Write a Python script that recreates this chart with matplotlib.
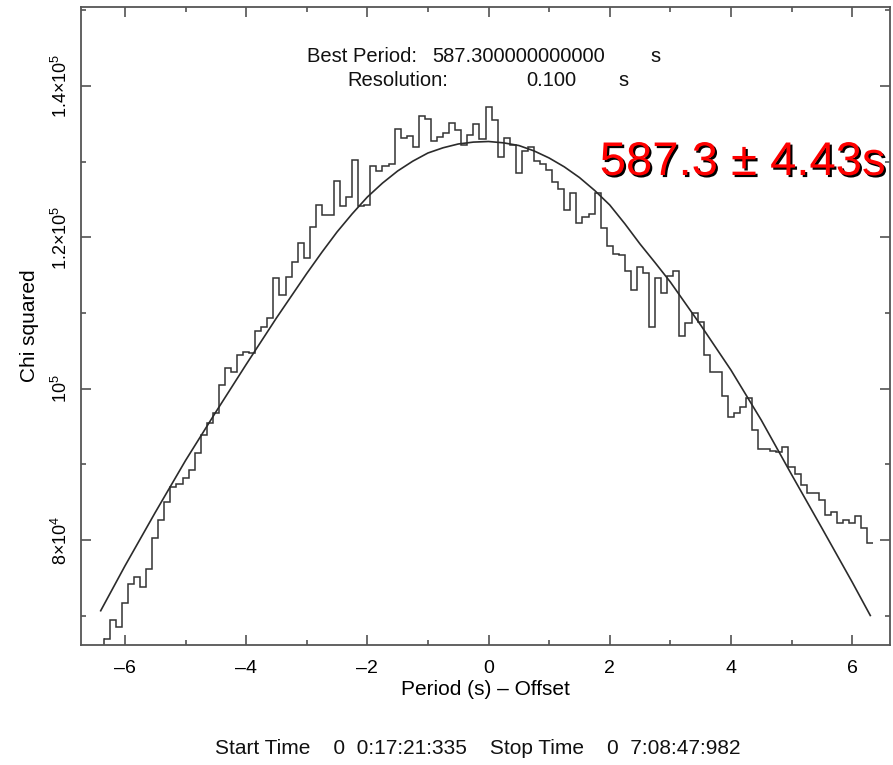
import numpy as np
import matplotlib
matplotlib.use('Agg')
import matplotlib.pyplot as plt
import matplotlib.patheffects as pe

# ---------------- data ----------------
bin_start = -6.35          # left edge of first trial-period bin (s, offset)
bin_width = 0.1            # resolution (s)
chi2_values = [
    66870, 69420, 68540, 71630, 74180, 75150, 73750, 76130, 80220, 82640,
    85060, 87000, 87400, 88200, 89250, 91500, 93880, 95470, 96790, 100490,
    102740, 102210, 104460, 104850, 104720, 107630, 108160, 109350, 114640, 112390,
    114770, 116750, 119260, 117280, 121420, 124290, 122960, 122960, 127500, 124200,
    125350, 130240, 124150, 124290, 129440, 128780, 129440, 129710, 134370, 133140,
    133410, 131950, 136010, 135660, 132750, 133280, 133800, 135190, 134240, 132220,
    133540, 134930, 133010, 137200, 135560, 130670, 133100, 132220, 128580, 131360,
    131990, 130100, 129640, 128910, 127260, 126340, 123560, 125830, 121970, 122700,
    123100, 125830, 121210, 118870, 117810, 117680, 115560, 113050, 116130, 115340,
    108120, 114600, 112650, 114900, 115600, 106970, 108650, 110050, 108860, 104460,
    102250, 102250, 99040, 96300, 96830, 97620, 98730, 94540, 91990, 91990,
    91770, 91670, 92260, 89690, 88720, 87270, 86250, 86170, 85290, 83300,
    83740, 82210, 82640, 82290, 83170, 81550, 79560,
]

fit_x = [-6.4, -6.0, -5.5, -5.0, -4.5, -4.0, -3.5, -3.0, -2.75, -2.5, -2.25, -2.0,
         -1.75, -1.5, -1.25, -1.0, -0.75, -0.5, -0.25, 0.0, 0.25, 0.5, 0.75, 1.0,
         1.25, 1.5, 1.75, 2.0, 2.25, 2.5, 2.75, 3.0, 3.5, 4.0, 4.5, 5.0, 5.5, 6.0, 6.3]
fit_y = [70650, 76570, 83640, 90510, 96920, 103200, 109350, 115230, 118040, 120720,
         123120, 125340, 127180, 128780, 130080, 131160, 131850, 132350, 132600, 132680,
         132500, 132150, 131440, 130500, 129330, 127920, 126220, 124290, 121800, 119130,
         116650, 114110, 108420, 102470, 95860, 88660, 81590, 74450, 70020]

xlim = (-6.725, 6.625)
ylim = (66120, 150460)
xticks = [-6, -4, -2, 0, 2, 4, 6]
xminor = [-5, -3, -1, 1, 3, 5]
yticks = [80000, 100000, 120000, 140000]
ytick_labels = [r'$8{\times}10^4$', r'$10^5$', r'$1.2{\times}10^5$', r'$1.4{\times}10^5$']
yminor = [70000, 90000, 110000, 130000, 150000]

x_label = 'Period (s) \u2013 Offset'
y_label = 'Chi squared'
best_period_label = 'Best Period:'
best_period_value = '587.300000000000'
resolution_label = 'Resolution:'
resolution_value = '0.100'
unit = 's'
times_text = 'Start Time    0  0:17:21:335    Stop Time    0  7:08:47:982'
result_text = '587.3 \u00b1 4.43s'

# ---------------- style ----------------
FONT = ['Liberation Sans', 'DejaVu Sans']
plt.rcParams['font.family'] = FONT
plt.rcParams['mathtext.fontset'] = 'custom'
plt.rcParams['mathtext.rm'] = 'Liberation Sans'
plt.rcParams['mathtext.it'] = 'Liberation Sans'
plt.rcParams['mathtext.bf'] = 'Liberation Sans'

W, H = 893, 765
fig = plt.figure(figsize=(W / 100, H / 100), dpi=100)
ax = fig.add_axes([81 / W, 1 - 645 / H, (890 - 81) / W, (645 - 7) / H])

hist_col = '#333333'
fit_col = '#2b2b2b'
edges = bin_start + bin_width * np.arange(len(chi2_values) + 1)
ax.stairs(chi2_values, edges, baseline=None, color=hist_col, lw=1.1)
# short rise from the frame bottom at the first bin edge, as in the original
ax.plot([edges[0], edges[0]], [ylim[0], chi2_values[0]], color=hist_col, lw=1.1)
ax.plot(fit_x, fit_y, color=fit_col, lw=1.2)

ax.set_xlim(*xlim)
ax.set_ylim(*ylim)

ax.set_xticks(xticks, [f'{t:d}'.replace('-', '\u2013') for t in xticks])
ax.set_xticks(xminor, minor=True)
ax.set_yticks(yticks, ytick_labels, rotation=90, va='center')
ax.set_yticks(yminor, minor=True)

ax.tick_params(which='both', direction='in', top=True, right=True,
               color='#444444', width=1.1)
ax.tick_params(axis='x', labelsize=14)
ax.tick_params(axis='y', labelsize=13)
ax.tick_params(which='major', length=7.5)
ax.tick_params(which='minor', length=3.8)
ax.tick_params(axis='x', which='major', pad=11)
ax.tick_params(axis='y', which='major', pad=7)
for s in ax.spines.values():
    s.set_color('#555555')
    s.set_linewidth(1.3)

ax.set_xlabel(x_label, fontsize=15, labelpad=2)
ax.set_ylabel(y_label, fontsize=15, labelpad=9)

def ftext(x, y, s, **kw):
    fig.text(x / W, 1 - y / H, s, **kw)

hdr = dict(fontsize=14.5, va='center', ha='left', color='#111111')
ftext(307, 57, best_period_label, **hdr)
ftext(432, 57, best_period_value, **hdr)
ftext(650, 57, unit, **hdr)
ftext(347, 80, resolution_label, **hdr)
ftext(526, 80, resolution_value, **hdr)
ftext(618, 80, unit, **hdr)

ftext(478, 748, times_text, fontsize=15, ha='center', va='center', color='#111111')

ftext(743, 163, result_text, fontsize=34, ha='center', va='center', color='#ff0000',
      path_effects=[pe.withSimplePatchShadow(offset=(1.5, -1.5), shadow_rgbFace='black', alpha=1.0)])

fig.savefig('out.png', dpi=100)
